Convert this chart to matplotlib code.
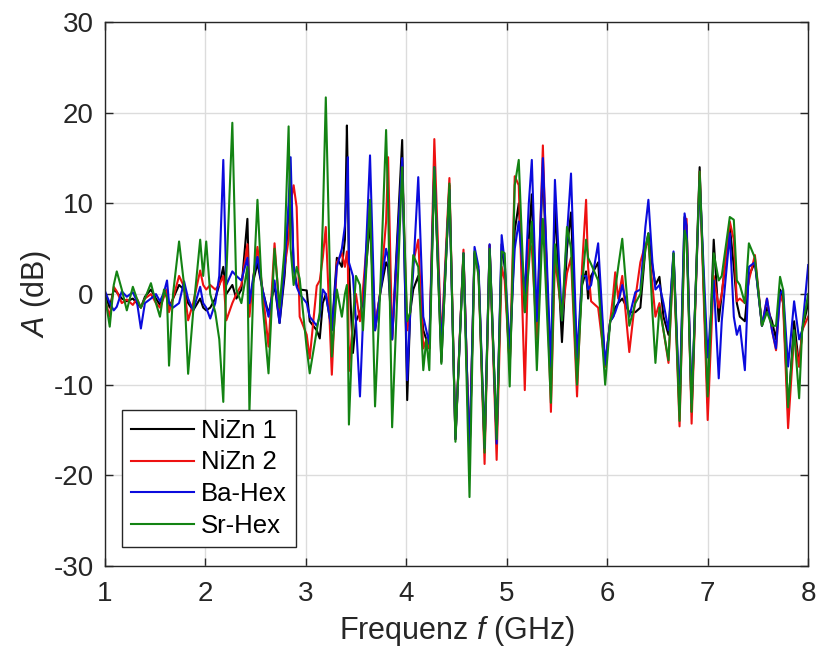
import matplotlib
matplotlib.use("Agg")
import matplotlib.pyplot as plt
import numpy as np

plt.rcParams['font.family'] = ['Liberation Sans', 'DejaVu Sans']
plt.rcParams['mathtext.fontset'] = 'custom'
plt.rcParams['mathtext.it'] = 'Liberation Sans:italic'
plt.rcParams['mathtext.rm'] = 'Liberation Sans'
plt.rcParams['axes.unicode_minus'] = False

# frequency (GHz) of each read-off vertex, shared by all four series
freq = [1.00, 1.05, 1.09, 1.12, 1.17, 1.22, 1.28, 1.32, 1.36, 1.40,
        1.46, 1.51, 1.55, 1.59, 1.62, 1.64, 1.68, 1.74, 1.79, 1.83,
        1.88, 1.95, 1.98, 2.01, 2.05, 2.10, 2.14, 2.18, 2.21, 2.27,
        2.31, 2.36, 2.42, 2.44, 2.48, 2.52, 2.57, 2.63, 2.69, 2.74,
        2.79, 2.83, 2.85, 2.88, 2.91, 2.94, 3.01, 3.04, 3.11, 3.14,
        3.17, 3.20, 3.26, 3.31, 3.36, 3.39, 3.41, 3.42, 3.43, 3.47,
        3.50, 3.54, 3.57, 3.64, 3.69, 3.74, 3.80, 3.82, 3.86, 3.96,
        4.01, 4.04, 4.07, 4.12, 4.17, 4.20, 4.23, 4.28, 4.35, 4.43,
        4.49, 4.57, 4.63, 4.68, 4.72, 4.78, 4.83, 4.90, 4.95, 4.98,
        5.03, 5.08, 5.12, 5.18, 5.22, 5.25, 5.30, 5.36, 5.44, 5.48,
        5.55, 5.60, 5.64, 5.70, 5.75, 5.79, 5.81, 5.84, 5.91, 5.98,
        6.03, 6.06, 6.08, 6.11, 6.15, 6.22, 6.28, 6.33, 6.38, 6.41,
        6.45, 6.48, 6.52, 6.56, 6.61, 6.66, 6.72, 6.77, 6.79, 6.84,
        6.92, 7.00, 7.06, 7.11, 7.14, 7.22, 7.26, 7.29, 7.32, 7.37,
        7.41, 7.47, 7.54, 7.59, 7.64, 7.68, 7.72, 7.75, 7.80, 7.86,
        7.91, 7.94, 8.00]

nizn1 = [0.0, -1.5, 0.5, 0.2, -0.5, -0.8, -0.5, -1.0, -1.5, -0.3,
         0.5, -0.5, -1.2, 0.0, 0.5, -1.5, -0.5, 1.0, 0.5, -1.0,
         -1.8, -0.5, -1.5, -1.8, -1.5, -0.5, 1.0, 3.0, 0.0, 1.0,
         -0.5, 0.5, 8.3, -1.0, 1.5, 3.4, 0.5, -2.2, 1.0, -3.2,
         2.0, 9.0, 13.0, 3.0, 1.0, 0.5, 0.4, -3.0, -4.0, -4.9,
         -1.0, 0.0, -4.0, 4.0, 3.0, 6.0, 18.6, 12.0, 3.0, -6.5,
         -3.0, -2.0, -1.0, 8.0, -4.0, 0.0, 3.5, 3.0, -5.0, 17.0,
         -11.7, -2.0, 0.5, 2.0, -4.0, -5.0, -6.0, 14.0, -7.5, 12.0,
         -16.0, 4.5, -18.0, 4.5, 2.5, -17.0, 5.4, -16.0, 5.5, 3.0,
         -8.0, 7.0, 10.0, -2.0, 6.0, 11.0, -5.0, 14.0, -10.0, 10.0,
         -5.3, 5.0, 9.0, -8.0, 1.0, 2.5, -0.5, 2.0, 3.5, -8.0,
         -3.0, -2.5, -1.5, -1.0, -0.5, -2.0, -2.0, -1.5, 5.0, 6.7,
         3.0, 1.0, 1.9, -2.5, -4.5, 4.5, -13.0, 8.5, 7.5, -13.0,
         14.0, -12.0, 6.0, -3.0, 0.0, 7.5, 3.0, -1.0, -2.5, -3.0,
         2.0, 3.5, -3.5, -1.5, -3.0, -5.0, 0.5, -0.5, -13.0, -3.0,
         -8.0, -4.0, -1.0]

nizn2 = [-0.5, -2.5, 0.8, 0.3, -1.0, -0.6, -1.2, -0.5, -1.5, -0.5,
         0.0, -1.0, -1.5, -0.3, 0.5, -2.0, -0.5, 2.0, 0.8, -2.9,
         -1.0, 2.6, 1.0, 0.5, 1.0, 0.5, 1.0, 2.0, -2.9, -1.0,
         0.0, 1.0, 5.5, -2.5, 2.0, 5.2, 0.5, -5.8, 5.6, -2.0,
         3.0, 6.0, 10.0, 12.0, 9.6, -2.5, -4.5, -7.1, 0.9, 1.5,
         4.0, 7.4, -8.9, 3.5, 4.5, 3.0, 4.7, 3.0, -8.5, -3.0,
         0.0, -3.0, 0.5, 10.0, -3.5, 0.0, 8.0, 15.1, -5.0, 14.0,
         -4.0, -2.0, 3.5, 6.0, -6.0, -5.0, -6.0, 17.1, -5.4, 12.8,
         -16.0, 4.9, -18.0, 4.5, 2.5, -18.75, 5.4, -18.3, 3.0, 1.5,
         -8.0, 13.0, 12.0, -10.6, 6.0, 5.0, -5.0, 16.4, -13.0, 4.0,
         -2.5, 2.3, 4.0, -11.3, 3.0, 10.4, 3.0, -0.8, -1.5, -8.0,
         -3.0, 0.0, 2.4, -0.5, 2.0, -6.4, -0.5, 3.5, 5.5, 5.5,
         1.0, -2.5, -1.0, -4.0, -7.6, 4.0, -14.6, 7.0, 8.3, -14.3,
         13.5, -13.9, 2.0, -1.5, 0.0, 8.0, 6.0, -0.8, -0.5, -1.0,
         1.5, 4.3, -3.5, -0.5, -4.0, -6.2, 0.0, -1.0, -14.8, -4.5,
         -8.0, -4.0, -2.5]

bahex = [0.4, -1.0, -1.8, -1.4, 0.3, -0.3, 0.2, -0.8, -3.8, -1.0,
         -0.5, 0.0, -0.8, 0.2, 1.5, -1.0, -1.5, -1.0, 1.4, -0.5,
         -1.8, 0.8, -1.0, -1.5, -2.7, -1.0, 2.0, 14.8, 1.0, 2.5,
         2.0, 1.5, 4.0, -1.0, 2.0, 4.1, 0.5, -2.5, 1.5, -3.2,
         3.0, 10.0, 15.1, 3.0, 0.8, 0.0, -1.0, -2.5, -3.5, -2.5,
         0.5, 0.0, -4.0, 3.0, 5.0, 7.5, 12.0, 15.1, 3.5, 2.0,
         -3.0, -11.3, -3.0, 15.3, -4.0, 0.0, 5.0, 4.0, -5.0, 15.0,
         -9.5, -2.0, 2.5, 12.9, -2.5, -4.0, -5.5, 14.0, -6.0, 11.5,
         -16.0, 4.5, -18.0, 5.2, 3.0, -17.0, 5.5, -16.5, 6.5, 3.5,
         -6.0, 5.0, 8.0, 0.0, 10.0, 14.8, -3.0, 15.0, -8.0, 12.6,
         -2.9, 6.5, 13.3, -7.0, 2.0, 2.0, 0.5, 1.0, 5.6, -7.8,
         -3.0, -2.5, -2.0, -1.0, 1.0, -2.5, 0.2, 0.5, 7.4, 10.4,
         3.5, 0.5, 1.0, -1.0, -4.0, 4.7, -12.0, 8.9, 7.5, -12.0,
         12.5, -7.0, 1.5, -9.3, -3.0, 6.7, -2.5, -4.5, -3.5, -8.4,
         3.0, 3.5, -3.5, -0.5, -4.0, -6.0, 0.0, 0.5, -8.0, -0.8,
         -5.0, -4.0, 3.2]

srhex = [0.0, -3.6, 1.0, 2.5, 0.5, -1.8, 0.8, -0.5, -1.5, -0.5,
         1.2, -1.0, -2.5, 0.5, -0.5, -7.9, 0.0, 5.8, 1.0, -8.8,
         -2.0, 6.0, 2.0, 5.8, 0.0, -2.0, -5.0, -11.9, 2.0, 18.9,
         0.5, -1.0, 3.0, -13.0, 1.0, 10.4, -1.0, -8.75, 5.0, -1.5,
         5.0, 18.5, 5.0, 1.0, 3.0, 1.7, -6.0, -8.75, -4.0, -2.0,
         8.0, 21.7, -6.9, 0.5, -2.5, 0.0, 1.0, -5.0, -14.4, -3.0,
         2.0, 1.0, -4.0, 10.4, -12.4, 0.0, 18.1, 10.0, -14.7, 14.0,
         -3.0, -2.0, 4.3, 3.0, -8.4, -5.0, -8.4, 14.0, -7.7, 12.2,
         -16.3, 4.5, -22.4, 4.7, 2.0, -17.5, 5.0, -16.0, 4.7, 4.5,
         -10.2, 12.0, 14.8, -2.0, 3.0, 8.0, -8.4, 8.3, -12.0, 5.5,
         -2.9, 7.4, 5.0, -10.0, 1.0, 6.0, 4.0, 3.3, 1.5, -10.0,
         -3.0, -2.0, 0.5, 3.0, 6.1, -3.5, -1.0, 0.0, 5.0, 6.7,
         -2.0, -7.6, -1.5, -4.0, -7.3, 4.5, -14.0, 7.0, 6.0, -13.0,
         13.5, -11.3, 4.5, 1.5, 2.0, 8.5, 8.2, 1.5, 1.0, -1.0,
         5.6, 4.0, -3.5, -2.0, -3.5, -3.5, 1.9, 0.5, -12.5, -4.0,
         -11.5, -4.0, 0.0]

labels = ['NiZn 1', 'NiZn 2', 'Ba-Hex', 'Sr-Hex']
colors = ['#000000', '#ee1111', '#0b0bdd', '#138313']

fig = plt.figure(figsize=(8.18, 6.52), dpi=100)
ax = fig.add_axes([0.128, 0.132, 0.860, 0.834])

for ys, lab, col in zip([nizn1, nizn2, bahex, srhex], labels, colors):
    ax.plot(freq, ys, color=col, lw=1.5, label=lab)

ax.set_xlim(1, 8)
ax.set_ylim(-30, 30)
ax.set_xticks(np.arange(1, 9, 1))
ax.set_yticks(np.arange(-30, 31, 10))
ax.grid(True, color='#dcdcdc', lw=1.0)
ax.set_axisbelow(True)

tc = '#262626'
ax.tick_params(direction='in', length=6, width=1.0, top=True, right=True,
               labelsize=20, colors=tc)
ax.tick_params(axis='x', pad=11)
ax.tick_params(axis='y', pad=8)
for s in ax.spines.values():
    s.set_color(tc)
    s.set_linewidth(1.0)

ax.set_xlabel('Frequenz $\\it{f}$ (GHz)', fontsize=22, color=tc, labelpad=5)
ax.set_ylabel('$\\it{A}$ (dB)', fontsize=22, color=tc, labelpad=0)

leg = ax.legend(loc='lower left', bbox_to_anchor=(0.024, 0.035), fontsize=18.5,
                frameon=True, fancybox=False, edgecolor=tc, framealpha=1,
                handlelength=2.45, borderpad=0.35, labelspacing=0.3,
                handletextpad=0.3, borderaxespad=0)
leg.get_frame().set_linewidth(1.0)

fig.savefig('out.png', dpi=100)
plt.close(fig)
